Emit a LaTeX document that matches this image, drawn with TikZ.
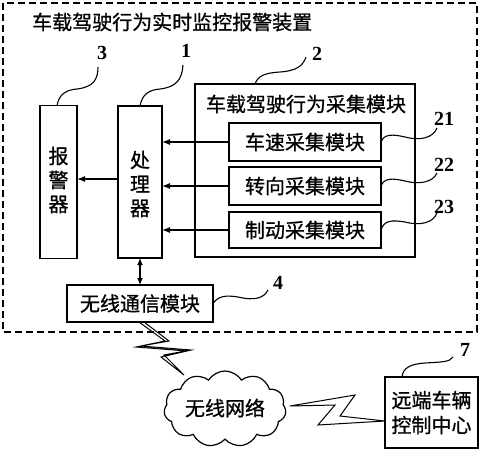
\documentclass[tikz,border=0pt]{standalone}
\usepackage{fontspec}
\setmainfont{Liberation Serif}
\newfontfamily\cjk[FakeBold=0.8]{Noto Sans CJK SC}
\usetikzlibrary{arrows.meta,shapes.symbols}
\begin{document}
\begin{tikzpicture}[x=1pt,y=-1pt,
  box/.style={draw,line width=1.2pt,inner sep=0pt,outer sep=0pt},
  cn/.style={font=\cjk\fontsize{20}{25}\selectfont,inner sep=0pt},
  num/.style={font=\bfseries\fontsize{20}{20}\selectfont,inner sep=0pt},
  arr/.style={line width=1.1pt,-{Latex[length=8pt,width=6pt]}},
  lead/.style={line width=1.1pt},
  bolt/.style={line width=1pt,line join=miter}]
\useasboundingbox (0,0) rectangle (480,450);
% outer dashed frame
\draw[line width=1.1pt,dash pattern=on 7pt off 4pt] (3,3) rectangle (477,332);
\node[cn,anchor=west] (title) at (32,22) {车载驾驶行为实时监控报警装置};
% boxes
\node[box,minimum width=37pt,minimum height=153pt] (alarm) at (58.5,182) {};
\node[cn,align=center] (alarmt) at (58.5,180) {报\\[-1pt]警\\[-1pt]器};
\node[box,minimum width=44pt,minimum height=152pt] (proc) at (140,182) {};
\node[cn,align=center] (proct) at (140,184) {处\\[-1pt]理\\[-1pt]器};
\node[box,minimum width=220pt,minimum height=173pt] (coll) at (305,170.5) {};
\node[cn] (collt) at (306,104) {车载驾驶行为采集模块};
\node[box,cn,minimum width=152pt,minimum height=38pt] (s1) at (305,142) {车速采集模块};
\node[box,cn,minimum width=152pt,minimum height=38pt] (s2) at (305,186) {转向采集模块};
\node[box,cn,minimum width=152pt,minimum height=36pt] (s3) at (305,230) {制动采集模块};
\node[box,cn,minimum width=146pt,minimum height=37pt] (wl) at (140,303.5) {无线通信模块};
\node[box,cn,align=center,minimum width=93pt,minimum height=71pt] (rc) at (431.5,412.5) {远端车辆\\控制中心};
\node[cloud,draw,line width=1.2pt,cloud puffs=11,cloud puff arc=115,aspect=1.7,
      minimum width=122pt,minimum height=76pt,inner sep=0pt] (net) at (225,409) {};
\node[cn] (nett) at (225,408) {无线网络};
% arrows
\draw[arr] (s1.west) -- (s1.west -| proc.east);
\draw[arr] (s2.west) -- (s2.west -| proc.east);
\draw[arr] (s3.west) -- (s3.west -| proc.east);
\draw[arr] ([yshift=3pt]proc.west) -- ([yshift=3pt]proc.west -| alarm.east);
\draw[line width=1.1pt,{Latex[length=7pt,width=6pt]}-{Latex[length=7pt,width=6pt]}] (proc.south) -- (wl.north);
% labels
\node[num] (n3) at (102,53) {3};
\node[num] (n1) at (186,51) {1};
\node[num] (n2) at (317,54) {2};
\node[num] (n21) at (444,119) {21};
\node[num] (n22) at (444,165) {22};
\node[num] (n23) at (444,207) {23};
\node[num] (n4) at (278,283) {4};
\node[num] (n7) at (465,350) {7};
% leaders
\draw[lead] ([xshift=-1.5pt]alarm.north) .. controls (59,95) and (65,90) .. (77,89) .. controls (93,87) and (98,80) .. (98,67);
\draw[lead] (proc.north) .. controls (142,95) and (148,90) .. (160,89) .. controls (176,87) and (182,80) .. (183,65);
\draw[lead] (255,84) .. controls (258,76) and (264,73) .. (280,72) .. controls (296,71) and (303,66) .. (306,57);
\draw[lead] (s1.east) .. controls (384,134) and (392,134) .. (405,137) .. controls (420,141) and (433,138) .. (437,128);
\draw[lead] (s2.east) .. controls (384,178) and (392,178) .. (405,181) .. controls (420,185) and (433,182) .. (437,173);
\draw[lead] (s3.east) .. controls (384,220) and (392,220) .. (405,222) .. controls (420,226) and (433,223) .. (437,213);
\draw[lead] (wl.east) .. controls (218,296) and (226,295) .. (238,297) .. controls (255,301) and (264,298) .. (268,290);
\draw[lead] (402,377) .. controls (403,368) and (410,364) .. (425,363) .. controls (442,362) and (450,362) .. (453,357);
% lightning bolts
\draw[bolt] (139,322) -- (165,341) -- (136,347) -- (187,351) -- (161,357) -- (184,375)
  -- (164,355) -- (191,350) -- (141,346) -- (169,341) -- (144,322);
\draw[bolt] (290,406) -- (355,395) -- (340,416) -- (385,421) -- (318,425) -- (335,405) -- cycle;
\end{tikzpicture}
\end{document}
